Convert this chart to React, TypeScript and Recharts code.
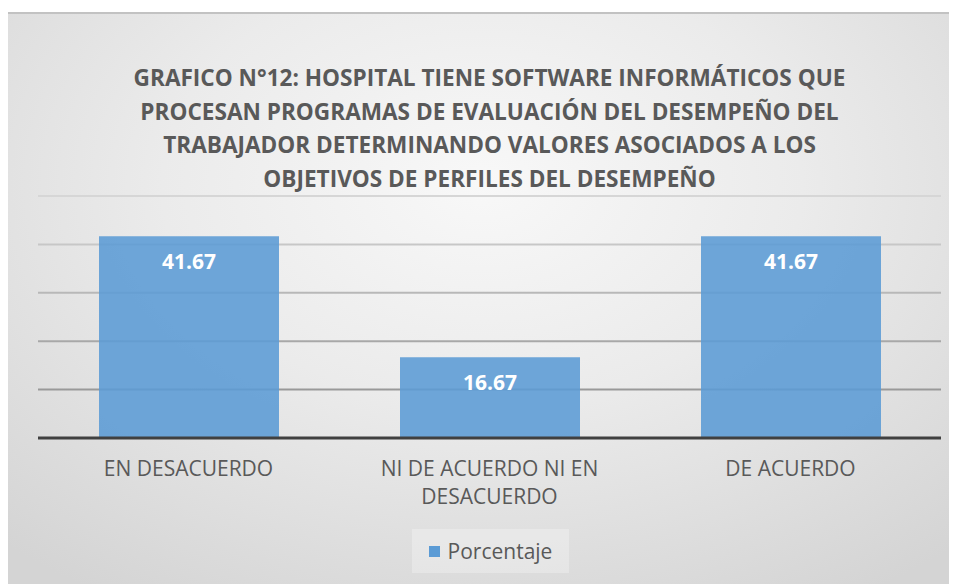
import { BarChart, Bar, XAxis, YAxis, CartesianGrid, LabelList, Text } from "recharts";

const categories = ["EN DESACUERDO", "NI DE ACUERDO NI EN DESACUERDO", "DE ACUERDO"];
const porcentaje = [41.67, 16.67, 41.67];
const yTicks = [0, 10, 20, 30, 40, 50];
const seriesName = "Porcentaje";
const titleLines = [
  "GRAFICO N°12: HOSPITAL TIENE SOFTWARE INFORMÁTICOS QUE",
  "PROCESAN PROGRAMAS DE EVALUACIÓN DEL DESEMPEÑO DEL",
  "TRABAJADOR DETERMINANDO VALORES ASOCIADOS A LOS",
  "OBJETIVOS DE PERFILES DEL DESEMPEÑO",
];

const data = categories.map((name, i) => ({ name, porcentaje: porcentaje[i] }));

const FONT = '"Open Sans", sans-serif';
const TEXT_COLOR = "#595959";
const BAR_COLOR = "#5b9bd5";

// gris más claro arriba, más oscuro abajo
function gridColor(y: number) {
  const t = Math.min(1, Math.max(0, (y - 182) / 242));
  const v = Math.round(214 - t * 76);
  return `rgb(${v},${v},${v})`;
}

const CategoryTick = ({ x, y, payload }: any) => (
  <Text
    x={x}
    y={y + 15}
    width={260}
    textAnchor="middle"
    verticalAnchor="start"
    lineHeight={28}
    fill={TEXT_COLOR}
    fontSize={21}
    fontFamily={FONT}
  >
    {payload.value}
  </Text>
);

export default function App() {
  return (
    <div style={{ paddingTop: 4 }}>
      <div
        style={{
          position: "relative",
          width: 949,
          height: 572,
          boxSizing: "border-box",
          borderTop: "2px solid #c2c2c2",
          background:
            "radial-gradient(ellipse 75% 85% at 50% 30%, #f8f8f8 0%, #ebebeb 45%, #d4d4d4 100%)",
        }}
      >
        <div
          style={{
            position: "absolute",
            left: 30,
            width: 903,
            top: 47,
            textAlign: "center",
            fontFamily: FONT,
            fontWeight: 700,
            fontSize: 22.6,
            lineHeight: "33.5px",
            color: TEXT_COLOR,
            whiteSpace: "nowrap",
          }}
        >
          {titleLines.map((line) => (
            <div key={line}>{line}</div>
          ))}
        </div>
        <BarChart
          width={949}
          height={570}
          data={data}
          margin={{ top: 182, right: 16, left: 30, bottom: 86 }}
          style={{ position: "absolute", left: 0, top: 0 }}
        >
          <CartesianGrid
            vertical={false}
            horizontal={(p: any) => (
              <line
                key={`h-${p.index}-${p.y1}`}
                x1={p.x1}
                y1={p.y1}
                x2={p.x2}
                y2={p.y2}
                stroke={gridColor(p.y1)}
                strokeWidth={2}
              />
            )}
          />
          <XAxis
            dataKey="name"
            axisLine={{ stroke: "#404040", strokeWidth: 3 }}
            tickLine={false}
            interval={0}
            height={60}
            tick={<CategoryTick />}
          />
          <YAxis hide domain={[0, 50]} ticks={yTicks} />
          <Bar dataKey="porcentaje" name={seriesName} fill={BAR_COLOR} fillOpacity={0.88} barSize={180} isAnimationActive={false}>
            <LabelList
              dataKey="porcentaje"
              position="insideTop"
              offset={18}
              fill="#ffffff"
              fontSize={21}
              fontWeight={700}
              fontFamily={FONT}
              formatter={(v: any) => Number(v).toFixed(2)}
            />
          </Bar>
        </BarChart>
        <div
          style={{
            position: "absolute",
            left: 404,
            top: 515,
            width: 157,
            height: 44,
            background: "rgba(255,255,255,0.28)",
            display: "flex",
            alignItems: "center",
            justifyContent: "center",
            gap: 8,
            fontFamily: FONT,
            fontSize: 21,
            color: TEXT_COLOR,
          }}
        >
          <span style={{ width: 11, height: 11, background: BAR_COLOR, display: "inline-block" }} />
          <span>{seriesName}</span>
        </div>
      </div>
    </div>
  );
}
